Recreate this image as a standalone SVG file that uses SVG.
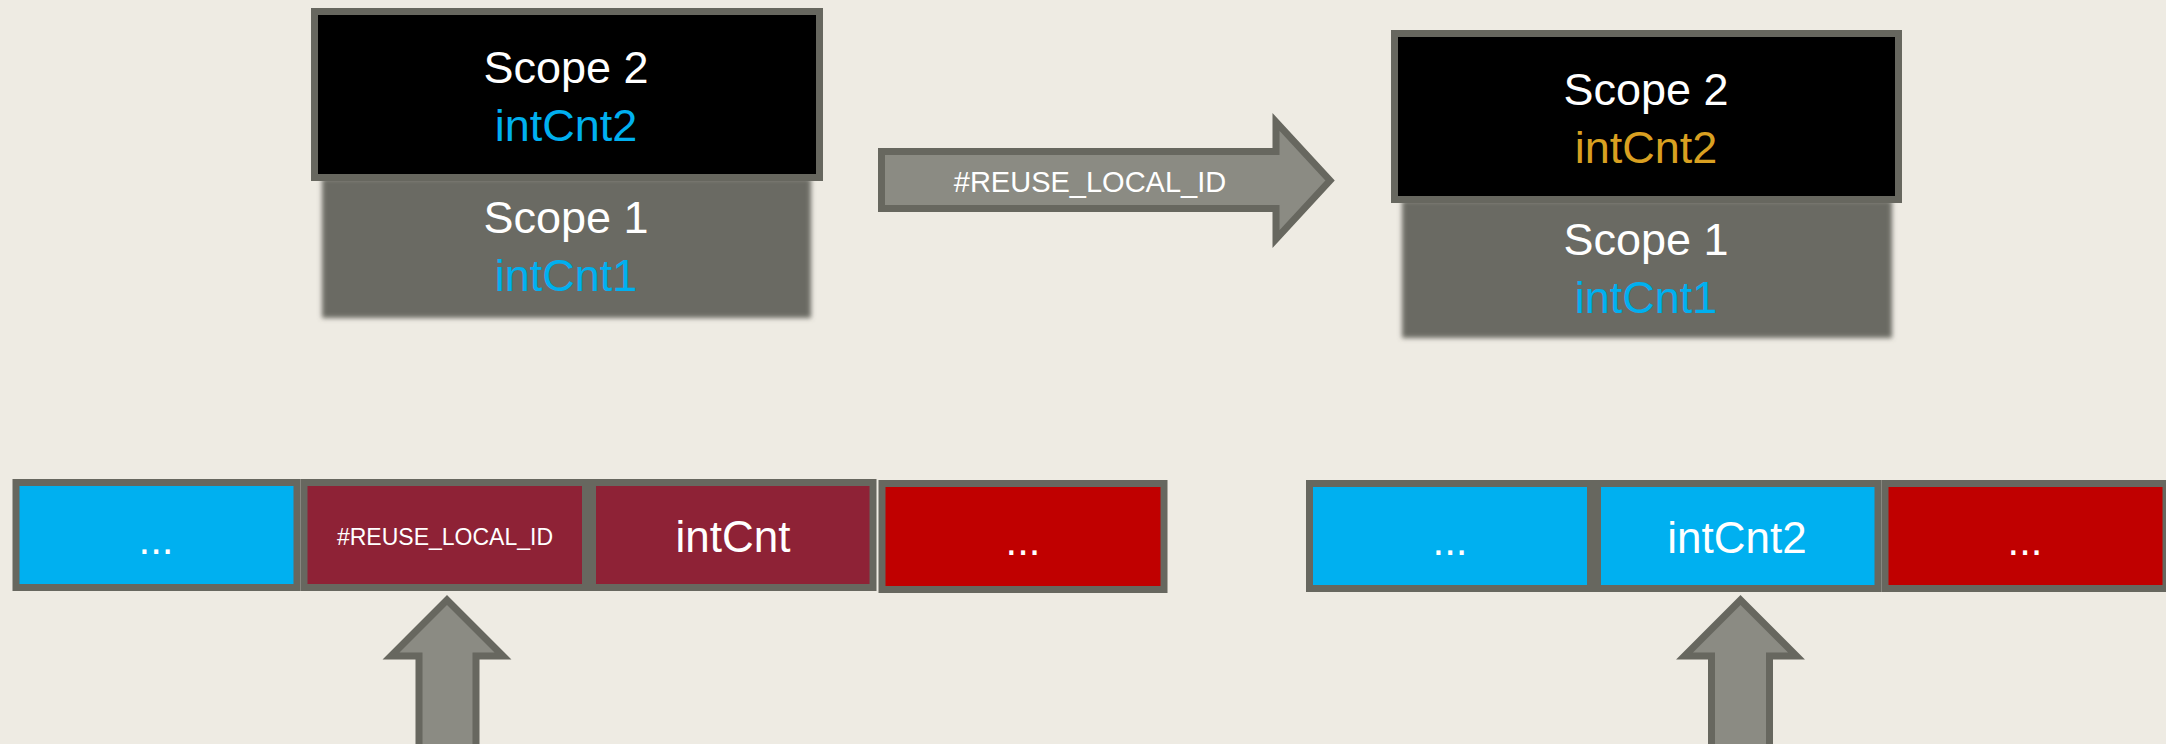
<svg xmlns="http://www.w3.org/2000/svg" width="2166" height="744" viewBox="0 0 2166 744">
<style>
.bg{fill:#EEEBE3}
.frame{stroke:#67675F;stroke-width:7}
.t{font-family:"Liberation Sans",Arial,sans-serif;text-anchor:middle}
.w{fill:#FFFFFF}
.b{fill:#00B0F0}
.o{fill:#D9A021}
.dots{font-size:42px}
.arrow{fill:#8B8B83;stroke:#67675F;stroke-width:7;stroke-linejoin:miter}
</style>
<defs>
<filter id="soft" x="-5%" y="-10%" width="110%" height="120%">
<feGaussianBlur stdDeviation="2.5"/>
</filter>
</defs>
<rect class="bg" x="0" y="0" width="2166" height="744"/>

<g id="scopes-before">
<rect x="322" y="178" width="489" height="140" fill="#6B6B64" filter="url(#soft)"/>
<text class="t w" x="566" y="233" font-size="45">Scope 1</text>
<text class="t b" x="566" y="291" font-size="45">intCnt1</text>
<rect class="frame" x="314.5" y="11.5" width="505" height="166" fill="#000000"/>
<text class="t w" x="566" y="83" font-size="45">Scope 2</text>
<text class="t b" x="566" y="141" font-size="45">intCnt2</text>
</g>

<g id="scopes-after">
<rect x="1402" y="200" width="490" height="138" fill="#6B6B64" filter="url(#soft)"/>
<text class="t w" x="1646" y="255" font-size="45">Scope 1</text>
<text class="t b" x="1646" y="313" font-size="45">intCnt1</text>
<rect class="frame" x="1394.5" y="33.5" width="504" height="166" fill="#000000"/>
<text class="t w" x="1646" y="105" font-size="45">Scope 2</text>
<text class="t o" x="1646" y="163" font-size="45">intCnt2</text>
</g>

<g id="connectors">
<polygon class="arrow" points="881.5,151.5 1276,151.5 1276,122 1330,180.5 1276,239 1276,208.5 881.5,208.5"/>
<text class="t w" x="1090" y="192" font-size="29">#REUSE_LOCAL_ID</text>
<polygon class="arrow" points="447,600 503,656 476,656 476,760 419,760 419,656 391,656"/>
<polygon class="arrow" points="1740.5,600 1796.5,656 1769.5,656 1769.5,760 1711.5,760 1711.5,656 1684.5,656"/>
</g>

<g id="memory-before">
<rect class="frame" x="16" y="482.5" width="281" height="105" fill="#00B0F0"/>
<text class="t w dots" x="156" y="554">...</text>
<rect class="frame" x="304" y="482.5" width="281.5" height="105" fill="#8E2236"/>
<text class="t w" x="445" y="545" font-size="23">#REUSE_LOCAL_ID</text>
<rect class="frame" x="592.5" y="482.5" width="280.5" height="105" fill="#8E2236"/>
<text class="t w" x="733" y="552" font-size="44">intCnt</text>
<rect class="frame" x="882" y="483.5" width="282" height="106" fill="#C00000"/>
<text class="t w dots" x="1023" y="555">...</text>
</g>

<g id="memory-after">
<rect class="frame" x="1309.5" y="483.5" width="281" height="105" fill="#00B0F0"/>
<text class="t w dots" x="1450" y="555">...</text>
<rect class="frame" x="1597.5" y="483.5" width="280.5" height="105" fill="#00B0F0"/>
<text class="t w" x="1737" y="553" font-size="44">intCnt2</text>
<rect class="frame" x="1885" y="483.5" width="281" height="105" fill="#C00000"/>
<text class="t w dots" x="2025" y="555">...</text>
</g>
</svg>
